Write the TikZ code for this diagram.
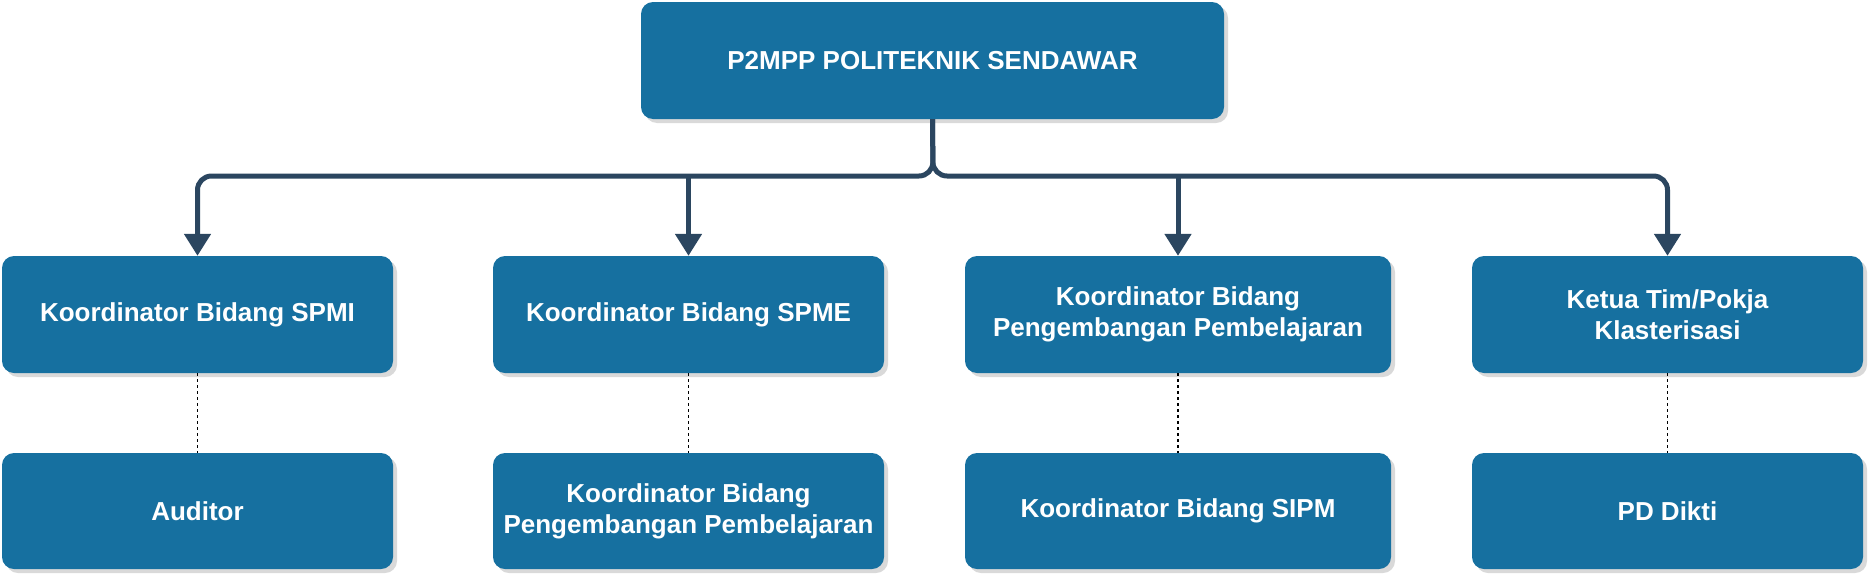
\documentclass[tikz,border=0pt]{standalone}
\usepackage{fontspec}
\setmainfont{Liberation Sans}
\usetikzlibrary{arrows.meta}
\definecolor{boxblue}{RGB}{22,112,160}
\definecolor{linenavy}{RGB}{43,70,96}
\tikzset{
  orgbox/.style={fill=boxblue, rounded corners=12pt, text=white, font=\bfseries\fontsize{26}{31}\selectfont, align=center, inner sep=0pt,
    drop shadow={shadow xshift=4pt, shadow yshift=-4pt, fill=black!25, opacity=0.6}},
  conn/.style={draw=linenavy, line width=5pt, rounded corners=14pt, -{Triangle[length=22pt,width=26pt]}},
  dotline/.style={draw=black, dashed, line width=1.2pt}
}
\usetikzlibrary{shadows}
\begin{document}
\begin{tikzpicture}[x=1pt,y=-1pt]
\useasboundingbox (0,0) rectangle (1868,576);
\newcommand{\obox}[6]{\node[orgbox, minimum width=#4-#2, minimum height=#5-#3] (#1) at ({(#2+#4)/2},{(#3+#5)/2}) {#6};}
\obox{top}{641}{2}{1224}{119}{P2MPP POLITEKNIK SENDAWAR}
\obox{a1}{2}{256}{393}{373}{Koordinator Bidang SPMI}
\obox{b1}{493}{256}{884}{373}{Koordinator Bidang SPME}
\obox{c1}{965}{256}{1391}{373}{Koordinator Bidang\\Pengembangan Pembelajaran}
\obox{d1}{1472}{256}{1863}{373}{Ketua Tim/Pokja\\Klasterisasi}
\obox{a2}{2}{453}{393}{569}{Auditor}
\obox{b2}{493}{453}{884}{569}{Koordinator Bidang\\Pengembangan Pembelajaran}
\obox{c2}{965}{453}{1391}{569}{Koordinator Bidang SIPM}
\obox{d2}{1472}{453}{1863}{569}{PD Dikti}
\coordinate (j) at (933,176);
\draw[conn] (top.south) -- (j) -- (a1.north |- j) -- (a1.north);
\draw[conn] (top.south) -- (j) -- (d1.north |- j) -- (d1.north);
\draw[conn, rounded corners=0pt] (b1.north |- j) -- (b1.north);
\draw[conn, rounded corners=0pt] (c1.north |- j) -- (c1.north);
\foreach \u/\l in {a1/a2,b1/b2,c1/c2,d1/d2} \draw[dotline] (\u.south) -- (\l.north);
\end{tikzpicture}
\end{document}
